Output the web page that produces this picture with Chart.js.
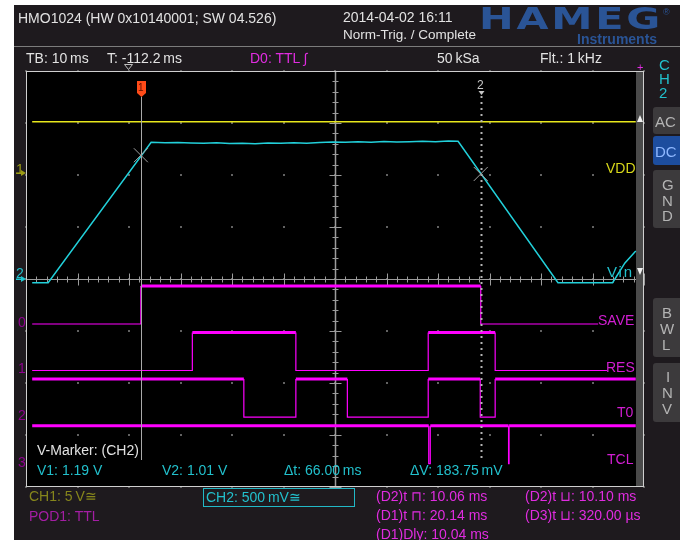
<!DOCTYPE html>
<html>
<head>
<meta charset="utf-8">
<script src="https://cdn.jsdelivr.net/npm/chart.js@4.4.1/dist/chart.umd.min.js"></script>
<style>
html, body { margin: 0; padding: 0; background: #fff; }
#wrap { position: relative; width: 680px; height: 540px; overflow: hidden; }
#scope { position: absolute; left: 0; top: 0; }
.t { position: absolute; white-space: pre; line-height: 1; transform: translateY(-50%);
     font-family: "Liberation Sans", Arial, sans-serif; font-size: 14px; color: #e2e2e2; }
</style>
</head>
<body>
<div id="wrap">
  <canvas id="scope" width="680" height="540"></canvas>
  <div id="labels"></div>
</div>
<script>
// time axis: 10 ms/div, 12 divs, centred on 0
const timeMin = -60;
const timeMax = 60;

// CH1 (VDD), 5 V/div
const vddTime = [-58.8, 58.4];
const vddVolt = [4.93, 4.93];
const ch1VoltsPerDiv = 5;
const ch1OffsetDiv = 2.04;

// CH2 (Vin), 500 mV/div
const vinTime = [-58.8, -55.7, -35.7, -33, -30.5, -28, -25.5, -23, -20.5, -18, -15.5, -13, -10.5, -8, -5.5, -3, -0.5,
                 2, 4.5, 7, 9.5, 12, 14.5, 17, 19.5, 22, 23.9, 43.3, 53.9, 56.3, 58.4];
const vinVolt = [-0.035, -0.035, 1.315, 1.31, 1.312, 1.308, 1.305, 1.31, 1.302, 1.305, 1.3, 1.308, 1.305, 1.31, 1.306, 1.312, 1.318,
                 1.314, 1.32, 1.316, 1.322, 1.318, 1.32, 1.324, 1.32, 1.326, 1.325, -0.035, -0.035, 0.155, 0.27];
const ch2VoltsPerDiv = 0.5;

// digital pod, edge times (ms) and logic levels between them
const d0Edges = [-58.8, -37.7, 28.3, 51.1];
const d0Levels = [0, 1, 0];
const d1Edges = [-58.8, -27.7, -7.6, 18.1, 31.1, 52.8];
const d1Levels = [0, 1, 0, 1, 0];
const d2Edges = [-58.8, -17.7, -7.6, 2.4, 18.1, 28.2, 31.1, 58.4];
const d2Levels = [1, 0, 1, 0, 1, 0, 1];
const d3Edges = [-58.8, 18.2, 18.5, 33.7, 33.8, 58.4];
const d3Levels = [1, 0, 1, 0, 1];

// cursors
const cursorTimes = [-37.7, 28.3];
const cursorVolts = [1.19, 1.01];

function digital(edges, levels, lane) {
    const hi = -0.135 - 0.895 * lane;
    const lo = hi - 0.73;
    const pts = [];
    levels.forEach((lv, i) => {
        const y = lv ? hi : lo;
        pts.push({ x: edges[i], y: y }, { x: edges[i + 1], y: y });
    });
    return {
        data: pts, borderColor: '#ff00ff', pointRadius: 0, tension: 0, fill: false,
        segment: { borderWidth: c => (c.p0.parsed.y === hi && c.p1.parsed.y === hi) ? 3 : 1.2 }
    };
}

const bgPlugin = {
    id: 'scopeBg',
    beforeDraw(chart) {
        const ctx = chart.ctx;
        const a = chart.chartArea;
        const xs = chart.scales.x, ys = chart.scales.y;
        ctx.save();
        ctx.fillStyle = '#ffffff';
        ctx.fillRect(0, 0, 680, 540);
        ctx.fillStyle = '#1e1a1e';
        ctx.fillRect(14, 5, 666, 535);
        ctx.strokeStyle = '#7c7c7c';
        ctx.lineWidth = 1;
        ctx.beginPath(); ctx.moveTo(14, 46.5); ctx.lineTo(680, 46.5); ctx.stroke();

        ctx.fillStyle = '#000';
        ctx.fillRect(a.left, a.top, a.right - a.left, a.bottom - a.top);

        // grid dots
        ctx.fillStyle = '#626262';
        for (let t = timeMin; t <= timeMax; t += 10) {
            for (let v = -4; v <= 4; v++) {
                ctx.fillRect(Math.round(xs.getPixelForValue(t)) - 1, Math.round(ys.getPixelForValue(v)) - 1, 2, 2);
            }
        }
        // centre axes with ticks
        const cx = Math.round(xs.getPixelForValue(0)) + 0.5;
        const cy = Math.round(ys.getPixelForValue(0)) + 0.5;
        ctx.strokeStyle = '#9c9c9c';
        ctx.lineWidth = 1;
        ctx.beginPath();
        ctx.moveTo(a.left, cy); ctx.lineTo(a.right, cy);
        for (let t = timeMin; t <= timeMax; t += 2) {
            const px = Math.round(xs.getPixelForValue(t)) + 0.5;
            const h = (Math.abs(t % 10) < 0.01) ? 6 : 3;
            ctx.moveTo(px, cy - h); ctx.lineTo(px, cy + h);
        }
        ctx.stroke();
        ctx.lineWidth = 1.5;
        ctx.beginPath();
        ctx.moveTo(cx, a.top); ctx.lineTo(cx, a.bottom);
        ctx.stroke();
        ctx.lineWidth = 1;
        ctx.beginPath();
        for (let v = -4; v <= 4.001; v += 0.2) {
            const py = Math.round(ys.getPixelForValue(v)) + 0.5;
            const w = (Math.abs(v - Math.round(v)) < 0.01) ? 6 : 3;
            ctx.moveTo(cx - w, py); ctx.lineTo(cx + w, py);
        }
        ctx.stroke();

        // scroll strip and border
        ctx.fillStyle = '#4a4a4a';
        ctx.fillRect(636, a.top, 8, a.bottom - a.top);
        ctx.strokeStyle = '#cfcfcf';
        ctx.strokeRect(a.left + 0.5, a.top + 0.5, a.right - a.left - 1, a.bottom - a.top - 1);
        ctx.fillStyle = '#f0f0f0';
        ctx.beginPath(); ctx.moveTo(637, 122); ctx.lineTo(643, 122); ctx.lineTo(640, 115); ctx.fill();
        ctx.beginPath(); ctx.moveTo(637, 268); ctx.lineTo(643, 268); ctx.lineTo(640, 275); ctx.fill();

        // trigger position marker
        ctx.strokeStyle = '#bdbdbd';
        ctx.beginPath(); ctx.moveTo(124.5, 64.5); ctx.lineTo(132.5, 64.5); ctx.lineTo(128.5, 69.5); ctx.closePath(); ctx.stroke();

        // left channel arrows
        ctx.fillStyle = '#9c9c14';
        const y1 = ys.getPixelForValue(ch1OffsetDiv);
        ctx.beginPath(); ctx.moveTo(21, y1 - 3); ctx.lineTo(26, y1); ctx.lineTo(21, y1 + 3); ctx.fill();
        ctx.fillRect(16, y1 - 0.5, 6, 1.5);
        ctx.fillStyle = '#22c8d2';
        const y2 = ys.getPixelForValue(0);
        ctx.beginPath(); ctx.moveTo(21, y2 - 3); ctx.lineTo(26, y2); ctx.lineTo(21, y2 + 3); ctx.fill();
        ctx.fillRect(16, y2 - 0.5, 6, 1.5);

        // side buttons
        const btn = (x, y, w, h, fill) => {
            ctx.fillStyle = fill;
            ctx.beginPath(); ctx.roundRect(x, y, w, h, 3); ctx.fill();
        };
        btn(653, 107, 30, 27, '#3c3a3c');
        btn(653, 136, 30, 29, '#1d4d9e');
        btn(653, 170, 30, 58, '#3c3a3c');
        btn(653, 298, 30, 59, '#3c3a3c');
        btn(653, 363, 30, 59, '#3c3a3c');

        // CH2 box
        ctx.strokeStyle = '#22b8c6';
        ctx.strokeRect(203.5, 488.5, 151, 18);
        ctx.restore();
    },
    afterDatasetsDraw(chart) {
        const ctx = chart.ctx;
        const xs = chart.scales.x, ys = chart.scales.y;
        ctx.save();
        const c1 = Math.round(xs.getPixelForValue(cursorTimes[0])) + 0.5;
        const c2 = Math.round(xs.getPixelForValue(cursorTimes[1])) + 0.5;
        ctx.strokeStyle = '#a9a9a9';
        ctx.lineWidth = 1;
        ctx.beginPath(); ctx.moveTo(c1, 97); ctx.lineTo(c1, 460); ctx.stroke();
        ctx.strokeStyle = '#b4b4b4';
        ctx.lineWidth = 2;
        ctx.setLineDash([2, 4]);
        ctx.beginPath(); ctx.moveTo(c2, 96); ctx.lineTo(c2, 462); ctx.stroke();
        ctx.setLineDash([]);
        // cross markers
        ctx.lineWidth = 1;
        ctx.strokeStyle = '#a0a0a0';
        cursorTimes.forEach((t, i) => {
            const px = xs.getPixelForValue(t), py = ys.getPixelForValue(cursorVolts[i] / ch2VoltsPerDiv);
            ctx.beginPath();
            ctx.moveTo(px - 7, py - 7); ctx.lineTo(px + 7, py + 7);
            ctx.moveTo(px - 7, py + 7); ctx.lineTo(px + 7, py - 7);
            ctx.stroke();
        });
        // cursor 1 flag
        ctx.fillStyle = '#ff4b18';
        ctx.beginPath();
        ctx.moveTo(c1 - 4.5, 81); ctx.lineTo(c1 + 4.5, 81); ctx.lineTo(c1 + 4.5, 93);
        ctx.lineTo(c1, 97); ctx.lineTo(c1 - 4.5, 93); ctx.closePath(); ctx.fill();
        // cursor 2 arrow
        ctx.fillStyle = '#c8c8c8';
        ctx.beginPath(); ctx.moveTo(c2 - 3, 91); ctx.lineTo(c2 + 3, 91); ctx.lineTo(c2, 95); ctx.fill();
        ctx.restore();
    }
};

new Chart(document.getElementById('scope'), {
    type: 'line',
    data: {
        datasets: [
            {
                data: vddTime.map((t, i) => ({ x: t, y: vddVolt[i] / ch1VoltsPerDiv + ch1OffsetDiv })),
                borderColor: '#e8e81c', borderWidth: 1.5, pointRadius: 0, tension: 0, fill: false
            },
            {
                data: vinTime.map((t, i) => ({ x: t, y: vinVolt[i] / ch2VoltsPerDiv })),
                borderColor: '#22d0da', borderWidth: 1.5, pointRadius: 0, tension: 0, fill: false
            },
            digital(d0Edges, d0Levels, 0),
            digital(d1Edges, d1Levels, 1),
            digital(d2Edges, d2Levels, 2),
            digital(d3Edges, d3Levels, 3)
        ]
    },
    options: {
        responsive: false,
        animation: false,
        events: [],
        layout: { padding: { left: 26, top: 71, right: 36, bottom: 53 } },
        plugins: { legend: { display: false }, tooltip: { enabled: false } },
        scales: {
            x: { type: 'linear', min: timeMin, max: timeMax, display: false },
            y: { min: -4, max: 4, display: false }
        }
    },
    plugins: [bgPlugin]
});

const W = '#e2e2e2', CY = '#22c0cc', MG = '#e02ce0', ML = '#d21ed2', GR = '#b4b4b4';
const ts = '\u2009';
const labels = [
    ['HMO1024 (HW 0x10140001; SW 04.526)', 18, 18, W],
    ['2014-04-02 16:11', 343, 17, W],
    ['Norm-Trig. / Complete', 343, 35, W, 13.5],
    ['TB: 10' + ts + 'ms', 26, 58, W],
    ['T: -112.2' + ts + 'ms', 107, 58, W],
    ['D0: TTL ∫', 250, 58, MG],
    ['50' + ts + 'kSa', 437, 58, W],
    ['Flt.: 1' + ts + 'kHz', 540, 58, W],
    ['+', 637, 67, MG, 11],
    ['C', 659, 64, CY, 15], ['H', 659, 78, CY, 15], ['2', 659, 92, CY, 15],
    ['AC', 655, 121, GR, 15], ['DC', 655, 151, '#8fb8ff', 15],
    ['G', 662, 184, GR, 15], ['N', 662, 200, GR, 15], ['D', 662, 215, GR, 15],
    ['B', 662, 312, GR, 15], ['W', 660, 328, GR, 15], ['L', 662, 344, GR, 15],
    ['I', 666, 376, GR, 15], ['N', 662, 392, GR, 15], ['V', 662, 408, GR, 15],
    ['1', 138, 88, '#5a1000', 10],
    ['2', 477, 85, '#c8c8c8', 12],
    ['1', 16, 169, '#9c9c14'],
    ['2', 16, 273, CY],
    ['0', 18, 322, '#8e008e'], ['1', 18, 368, '#8e008e'], ['2', 18, 415, '#8e008e'], ['3', 18, 462, '#8e008e'],
    ['VDD', 606, 168, '#d8d81a'],
    ['Vin', 607, 271, CY, 15, '1.8px'],
    ['SAVE', 598, 320, ML],
    ['RES', 606, 367, ML],
    ['T0', 617, 412, ML],
    ['TCL', 607, 459, ML],
    ['V-Marker: (CH2)', 37, 450, W],
    ['V1: 1.19 V', 37, 470, CY],
    ['V2: 1.01 V', 162, 470, CY],
    ['Δt: 66.00' + ts + 'ms', 284, 470, CY],
    ['ΔV: 183.75' + ts + 'mV', 410, 470, CY],
    ['CH1: 5' + ts + 'V≅', 29, 496, '#86861c'],
    ['POD1: TTL', 29, 516, '#a41ea4'],
    ['CH2: 500' + ts + 'mV≅', 206, 497, CY],
    ['(D2)t ⊓: 10.06 ms', 376, 496, MG],
    ['(D1)t ⊓: 20.14 ms', 376, 515, MG],
    ['(D1)Dly: 10.04 ms', 376, 534, MG],
    ['(D2)t ⊔: 10.10 ms', 525, 496, MG],
    ['(D3)t ⊔: 320.00 µs', 525, 515, MG]
];
const box = document.getElementById('labels');
labels.forEach(([txt, x, y, col, size, spacing]) => {
    const s = document.createElement('span');
    s.className = 't';
    s.textContent = txt;
    s.style.left = x + 'px';
    s.style.top = y + 'px';
    s.style.color = col;
    if (size) s.style.fontSize = size + 'px';
    if (spacing) s.style.letterSpacing = spacing;
    box.appendChild(s);
});

// HAMEG logo
const logo = document.createElement('span');
logo.className = 't';
logo.textContent = 'HAMEG';
Object.assign(logo.style, { left: '479px', top: '19px', fontFamily: '"DejaVu Sans", sans-serif', fontWeight: '900',
    fontSize: '30px', letterSpacing: '2px', color: '#2a5496', transform: 'translateY(-50%) scaleX(1.38)', transformOrigin: 'left center' });
box.appendChild(logo);
const reg = document.createElement('span');
reg.className = 't';
reg.textContent = '®';
Object.assign(reg.style, { left: '663px', top: '12px', fontSize: '9px', color: '#2a5496' });
box.appendChild(reg);
const inst = document.createElement('span');
inst.className = 't';
inst.textContent = 'Instruments';
Object.assign(inst.style, { left: '577px', top: '39px', fontWeight: 'bold', fontSize: '14px', color: '#2a5496' });
box.appendChild(inst);
</script>
</body>
</html>
